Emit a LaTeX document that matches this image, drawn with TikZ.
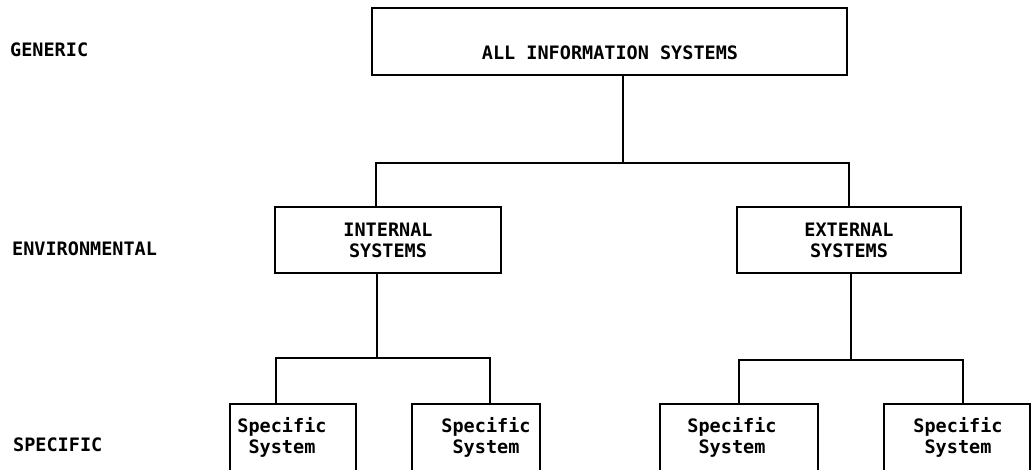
\documentclass[tikz,border=0pt]{standalone}
\usepackage{fontspec}
\newfontfamily\mono{DejaVu Sans Mono}
\tikzset{
  box/.style={draw, line width=1.8pt, inner sep=0pt},
  txt/.style={font=\mono\bfseries\fontsize{18.5}{21}\selectfont, align=center, inner sep=0pt},
  lbl/.style={font=\mono\bfseries\fontsize{18.5}{21}\selectfont, anchor=west, inner sep=0pt},
  conn/.style={line width=1.8pt},
}
\begin{document}
\begin{tikzpicture}[x=1pt,y=-1pt]
\useasboundingbox (0,0) rectangle (1034,469);
\clip (0,0) rectangle (1034,469);
% levels
\node[lbl] (lg) at (10,50) {GENERIC};
\node[lbl] (le) at (12,249) {ENVIRONMENTAL};
\node[lbl] (ls) at (13,445) {SPECIFIC};
% top
\node[box, minimum width=475pt, minimum height=67pt] (all) at (609.5,41.5) {};
\node[txt] (allt) at (610,53) {ALL INFORMATION SYSTEMS};
% middle
\node[box, txt, minimum width=226pt, minimum height=66pt] (int) at (388,240) {INTERNAL\\SYSTEMS};
\node[box, txt, minimum width=224pt, minimum height=66pt] (ext) at (849,240) {EXTERNAL\\SYSTEMS};
% bottom
\node[box, minimum width=126pt, minimum height=96pt] (b1) at (293,452) {};
\node[box, minimum width=128pt, minimum height=96pt] (b2) at (476,452) {};
\node[box, minimum width=158pt, minimum height=96pt] (b3) at (739,452) {};
\node[box, minimum width=146pt, minimum height=96pt] (b4) at (957,452) {};
\node[txt] (b1t) at (282,437) {Specific\\System};
\node[txt] (b2t) at (486,437) {Specific\\System};
\node[txt] (b3t) at (732,437) {Specific\\System};
\node[txt] (b4t) at (958,437) {Specific\\System};
% connectors
\coordinate (j0) at (623,163);
\coordinate (ji) at (376,163);
\coordinate (je) at (849,163);
\draw[conn] (j0 |- all.south) -- (j0);
\draw[conn] (ji |- int.north) -- (ji) -- (je) -- (je |- ext.north);
\coordinate (ki) at (377,358);
\coordinate (k1) at (276,358);
\coordinate (k2) at (490,358);
\draw[conn] (ki |- int.south) -- (ki);
\draw[conn] (k1 |- b1.north) -- (k1) -- (k2) -- (k2 |- b2.north);
\coordinate (ke) at (851,360);
\coordinate (k3) at (739,360);
\coordinate (k4) at (963,360);
\draw[conn] (ke |- ext.south) -- (ke);
\draw[conn] (k3 |- b3.north) -- (k3) -- (k4) -- (k4 |- b4.north);
\end{tikzpicture}
\end{document}
